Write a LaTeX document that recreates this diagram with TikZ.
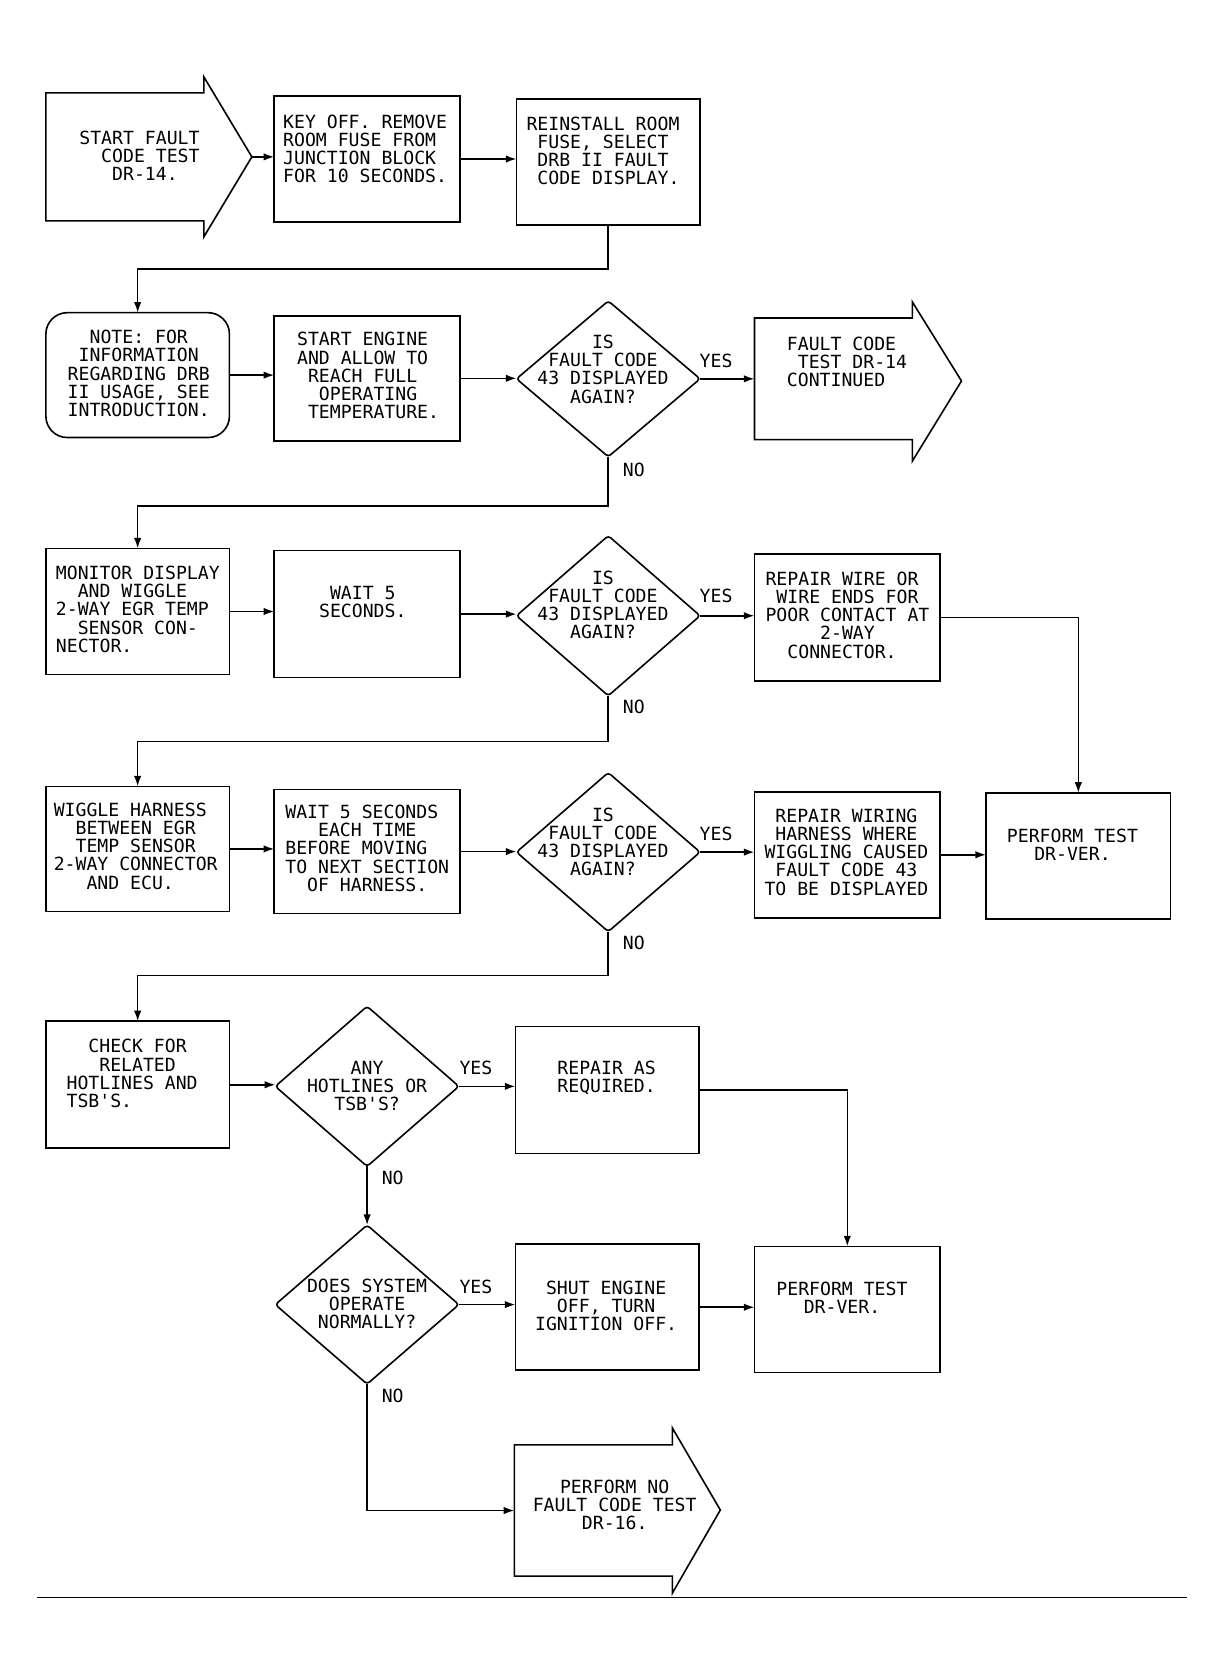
\documentclass[tikz,border=0pt]{standalone}
\usepackage{fontspec}
\newfontfamily\dmono{DejaVu Sans Mono}
\usetikzlibrary{shapes.geometric,arrows.meta,calc}
\begin{document}
\begin{tikzpicture}[x=0.5pt,y=-0.5pt,
  shapebox/.style={draw,line width=0.75pt,inner sep=0pt,outer sep=0pt},
  ghost/.style={inner sep=0pt,outer sep=0pt},
  dia/.style={shapebox,diamond,minimum width=86pt,minimum height=#1,rounded corners=1.5pt},
  conn/.style={line width=0.75pt,-{Latex[length=5pt,width=3.5pt]}},
  wire/.style={line width=0.75pt,line join=miter},
  txt/.style={font=\dmono\fontsize{8.5}{8.5}\selectfont,inner sep=0pt,align=left,anchor=west},
  ctxt/.style={txt,align=center,anchor=center},
  lbl/.style={font=\dmono\fontsize{8.5}{8.5}\selectfont,inner sep=0pt}]
\useasboundingbox (0,0) rectangle (1144,1564);

% shapes
\node[ghost,minimum width=74pt,minimum height=60pt] (startb) at (117,147) {};
\coordinate (stip) at (236,147);
\node[shapebox,minimum width=87pt,minimum height=59pt] (k1) at (344,149) {};
\node[shapebox,minimum width=86pt,minimum height=59pt] (r1) at (570,152) {};
\node[shapebox,rounded corners=10pt,minimum width=86pt,minimum height=58.5pt] (note) at (129,351.5) {};
\node[shapebox,minimum width=87pt,minimum height=58.5pt] (s2) at (344,354.5) {};
\node[dia=73pt] (d1) at (570,355) {};
\node[ghost,minimum width=74pt,minimum height=57pt] (fcb) at (781,355) {};
\coordinate (ftip) at (901,357);
\node[shapebox,minimum width=86pt,minimum height=59pt] (m3) at (129,573) {};
\node[shapebox,minimum width=87pt,minimum height=59.5pt] (w3) at (344,575.5) {};
\node[dia=75pt] (d2) at (570,577) {};
\node[shapebox,minimum width=87pt,minimum height=59.5pt] (rw) at (794,578.5) {};
\node[shapebox,minimum width=86pt,minimum height=58.5pt] (wg) at (129,795.5) {};
\node[shapebox,minimum width=87pt,minimum height=58pt] (w4) at (344,798) {};
\node[dia=74.5pt] (d3) at (570,798.5) {};
\node[shapebox,minimum width=87pt,minimum height=59pt] (rh) at (794,801) {};
\node[shapebox,minimum width=86.5pt,minimum height=59pt] (pt1) at (1010.5,802) {};
\node[shapebox,minimum width=86pt,minimum height=59.5pt] (ck) at (129,1016.5) {};
\node[dia=75pt] (d4) at (344,1018) {};
\node[shapebox,minimum width=86pt,minimum height=59.5pt] (ra) at (569,1021.5) {};
\node[dia=74.5pt] (d5) at (344,1222.5) {};
\node[shapebox,minimum width=86pt,minimum height=59pt] (sh) at (569,1225) {};
\node[shapebox,minimum width=87pt,minimum height=59pt] (pt2) at (794,1227) {};
\node[ghost,minimum width=74pt,minimum height=61.5pt] (endb) at (556,1415.5) {};
\coordinate (etip) at (675,1415);

% arrow-shaped outlines
\draw[wire] (startb.south west) -- (startb.north west) -- (startb.north east) -- ++(0,-15) -- (stip) -- ($(startb.south east)+(0,15)$) -- (startb.south east) -- cycle;
\draw[wire] (fcb.south west) -- (fcb.north west) -- (fcb.north east) -- ++(0,-15) -- (ftip) -- ($(fcb.south east)+(0,20)$) -- (fcb.south east) -- cycle;
\draw[wire] (endb.south west) -- (endb.north west) -- (endb.north east) -- ++(0,-16) -- (etip) -- ($(endb.south east)+(0,16)$) -- (endb.south east) -- cycle;

% junction coordinates
\coordinate (j1) at (129,252);
\coordinate (j2) at (129,474);
\coordinate (j3) at (129,695);
\coordinate (j4) at (129,914);

% connectors
\draw[conn] (stip) -- (stip -| k1.west);
\draw[conn] (k1.east) -- (k1.east -| r1.west);
\draw[conn] (r1.south) |- (j1) -- (note.north);
\draw[conn] (note.east) -- (note.east -| s2.west);
\draw[conn] (s2.east) -- (s2.east -| d1.west);
\draw[conn] (d1.east) -- (d1.east -| fcb.west);
\draw[conn] (d1.south) |- (j2) -- (m3.north);
\draw[conn] (m3.east) -- (m3.east -| w3.west);
\draw[conn] (w3.east) -- (w3.east -| d2.west);
\draw[conn] (d2.east) -- (d2.east -| rw.west);
\draw[conn] (rw.east) -| (pt1.north);
\draw[conn] (d2.south) |- (j3) -- (wg.north);
\draw[conn] (wg.east) -- (wg.east -| w4.west);
\draw[conn] (w4.east) -- (w4.east -| d3.west);
\draw[conn] (d3.east) -- (d3.east -| rh.west);
\draw[conn] (rh.east) -- (rh.east -| pt1.west);
\draw[conn] (d3.south) |- (j4) -- (ck.north);
\draw[conn] (ck.east) -- (ck.east -| d4.west);
\draw[conn] (d4.east) -- (d4.east -| ra.west);
\draw[conn] (ra.east) -| (pt2.north);
\draw[conn] (d4.south) -- (d5.north);
\draw[conn] (d5.east) -- (d5.east -| sh.west);
\draw[conn] (sh.east) -- (sh.east -| pt2.west);
\draw[conn] (d5.south) |- (endb.west);

% bottom rule
\coordinate (rl) at (35,1497);
\coordinate (rr) at (1112,1497);
\draw[line width=0.8pt] (rl) -- (rr);

% texts
\node[txt] (t1) at (74,146) {START FAULT\\\phantom{XX}CODE TEST\\\phantom{XXX}DR-14.};
\node[txt] (t2) at (265,139.5) {KEY OFF. REMOVE\\ROOM FUSE FROM\\JUNCTION BLOCK\\FOR 10 SECONDS.};
\node[txt] (t3) at (493,141.5) {REINSTALL ROOM\\\phantom{X}FUSE, SELECT\\\phantom{X}DRB II FAULT\\\phantom{X}CODE DISPLAY.};
\node[ctxt] (t4) at (130,350) {NOTE: FOR\\INFORMATION\\REGARDING DRB\\II USAGE, SEE\\INTRODUCTION.};
\node[txt] (t5) at (278,352) {START ENGINE\\AND ALLOW TO\\\phantom{X}REACH FULL\\\phantom{XX}OPERATING\\\phantom{X}TEMPERATURE.};
\node[ctxt] (t6) at (565,346) {IS\\FAULT CODE\\43 DISPLAYED\\AGAIN?};
\node[txt] (t7) at (737,339) {FAULT CODE\\\phantom{X}TEST DR-14\\CONTINUED};
\node[txt] (t8) at (52,571) {MONITOR DISPLAY\\\phantom{XX}AND WIGGLE\\2-WAY EGR TEMP\\\phantom{XX}SENSOR CON-\\NECTOR.};
\node[ctxt] (t9) at (340,564.5) {WAIT 5\\SECONDS.};
\node[ctxt] (t10) at (565,567) {IS\\FAULT CODE\\43 DISPLAYED\\AGAIN?};
\node[txt] (t11) at (717,576.5) {REPAIR WIRE OR\\\phantom{X}WIRE ENDS FOR\\POOR CONTACT AT\\\phantom{XXXXX}2-WAY\\\phantom{XX}CONNECTOR.};
\node[txt] (t12) at (50,793) {WIGGLE HARNESS\\\phantom{XX}BETWEEN EGR\\\phantom{XX}TEMP SENSOR\\2-WAY CONNECTOR\\\phantom{XXX}AND ECU.};
\node[txt] (t13) at (267,795) {WAIT 5 SECONDS\\\phantom{XXX}EACH TIME\\BEFORE MOVING\\TO NEXT SECTION\\\phantom{XX}OF HARNESS.};
\node[ctxt] (t14) at (565,789) {IS\\FAULT CODE\\43 DISPLAYED\\AGAIN?};
\node[txt] (t15) at (716,798.5) {\phantom{X}REPAIR WIRING\\\phantom{X}HARNESS WHERE\\WIGGLING CAUSED\\\phantom{X}FAULT CODE 43\\TO BE DISPLAYED};
\node[ctxt] (t16) at (1005,791.5) {PERFORM TEST\\DR-VER.};
\node[txt] (t17) at (62,1006) {\phantom{XX}CHECK FOR\\\phantom{XXX}RELATED\\HOTLINES AND\\TSB\textquotesingle S.};
\node[ctxt] (t18) at (344,1017.5) {ANY\\HOTLINES OR\\TSB\textquotesingle S?};
\node[txt] (t19) at (522,1010.5) {REPAIR AS\\REQUIRED.};
\node[ctxt] (t20) at (344,1222) {DOES SYSTEM\\OPERATE\\NORMALLY?};
\node[ctxt] (t21) at (568,1224) {SHUT ENGINE\\OFF, TURN\\IGNITION OFF.};
\node[ctxt] (t22) at (789,1216.5) {PERFORM TEST\\DR-VER.};
\node[ctxt] (t23) at (576,1410) {PERFORM NO\\FAULT CODE TEST\\DR-16.};

% branch labels
\node[lbl] (y1) at (671,338) {YES};
\node[lbl] (y2) at (671,558) {YES};
\node[lbl] (y3) at (671,781) {YES};
\node[lbl] (y4) at (446,1001) {YES};
\node[lbl] (y5) at (446,1206) {YES};
\node[lbl] (n1) at (594,440) {NO};
\node[lbl] (n2) at (594,662) {NO};
\node[lbl] (n3) at (594,884) {NO};
\node[lbl] (n4) at (368,1104) {NO};
\node[lbl] (n5) at (368,1308) {NO};
\end{tikzpicture}
\end{document}
